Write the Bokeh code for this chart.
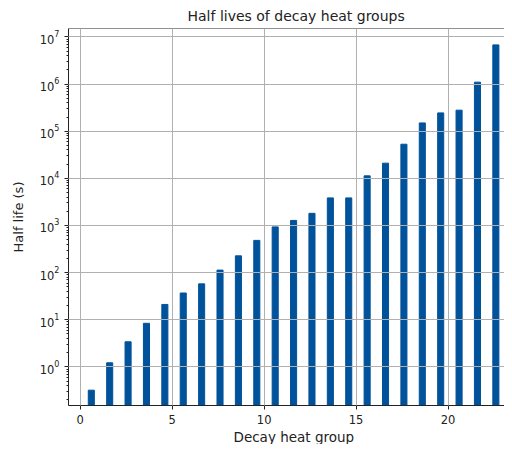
from bokeh.plotting import figure
from bokeh.models import Range1d, FixedTicker, LogTicker, Span, ColumnDataSource, Title
from bokeh.embed import file_html
from bokeh.resources import INLINE

# Data
group_pos = [0.6, 1.6, 2.6, 3.6, 4.6, 5.6, 6.6, 7.6, 8.6, 9.6, 10.6, 11.6,
             12.6, 13.6, 14.6, 15.6, 16.6, 17.6, 18.6, 19.6, 20.6, 21.6, 22.6]
half_lives = [0.32, 1.22, 3.4, 8.4, 21.1, 36.9, 57.7, 113, 227, 483, 933, 1280,
              1810, 3850, 3850, 11300, 21000, 53000, 150000, 245000, 280000,
              1.1e6, 6.8e6]
x_ticks = [0, 5, 10, 15, 20]

BAR_BASE = 1e-3
FONT = "DejaVu Sans"
BAR_COLOR = "#00529b"
TEXT_COLOR = "#222222"
Y_TOP = 10 ** 7.18

src = ColumnDataSource(dict(x=group_pos, top=half_lives))

p = figure(width=504, height=444, y_axis_type="log",
           x_range=Range1d(-0.64, 23.07), y_range=Range1d(10 ** -0.82, Y_TOP),
           output_backend="svg", toolbar_location=None,
           title="Half lives of decay heat groups",
           min_border_left=68, min_border_right=0, min_border_top=24,
           min_border_bottom=36)

p.vbar(x="x", top="top", bottom=BAR_BASE, width=0.33, source=src,
       fill_color=BAR_COLOR, line_color=BAR_COLOR)

p.outline_line_color = None
p.add_layout(Span(location=Y_TOP, dimension="width", line_color=TEXT_COLOR,
                  line_width=1))

p.title.text_font = FONT
p.title.text_font_size = "14px"
p.title.text_font_style = "normal"
p.title.align = "left"
p.title.offset = 119
p.title.text_color = TEXT_COLOR

p.xaxis.ticker = FixedTicker(ticks=x_ticks, minor_ticks=[])
p.yaxis.ticker = LogTicker(num_minor_ticks=10)

for ax in (p.xaxis[0], p.yaxis[0]):
    ax.axis_line_color = TEXT_COLOR
    ax.major_tick_line_color = TEXT_COLOR
    ax.minor_tick_line_color = TEXT_COLOR
    ax.major_tick_out = 4
    ax.major_tick_in = 0
    ax.minor_tick_out = 2
    ax.minor_tick_in = 0
    ax.major_label_text_font = FONT
    ax.major_label_text_font_size = "11.5px"
    ax.major_label_text_color = TEXT_COLOR
    ax.axis_label_text_font = FONT
    ax.axis_label_text_font_size = "13px"
    ax.axis_label_text_font_style = "normal"
    ax.axis_label_text_color = TEXT_COLOR

p.yaxis.axis_label = "Half life (s)"
p.xaxis.major_label_standoff = 5
p.yaxis.major_label_standoff = 5
p.yaxis.axis_label_standoff = 11

xlabel = Title(text="Decay heat group", align="left", offset=165,
               text_font=FONT, text_font_size="13.5px", text_font_style="normal",
               text_color=TEXT_COLOR, standoff=0)
p.add_layout(xlabel, "below")

for g in (p.xgrid[0], p.ygrid[0]):
    g.grid_line_color = "#b0b0b0"
    g.grid_line_width = 1
    g.level = "overlay"

open("out.html", "w").write(file_html(p, INLINE))
